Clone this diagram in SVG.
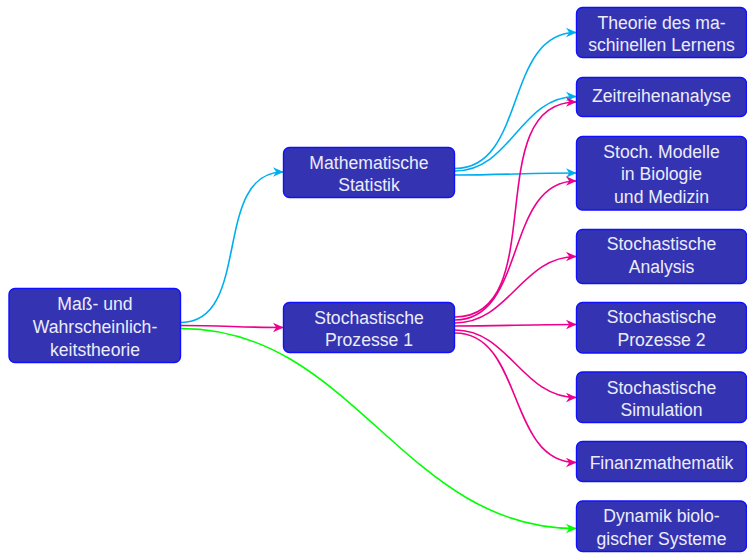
<svg xmlns="http://www.w3.org/2000/svg" width="747" height="553" viewBox="0 0 747 553">
<style>
.box{fill:#3434b2;stroke:#1010ff;stroke-width:1.4}
.t{font-family:"Liberation Sans",Arial,sans-serif;font-size:17.6px;fill:#ececf8;text-anchor:middle}
.e{fill:none;stroke-width:1.6}
.c{stroke:#00aeef}
.m{stroke:#ec008c}
.g{stroke:#00ff00}
</style>
<defs>
<marker id="ac" markerUnits="userSpaceOnUse" markerWidth="14" markerHeight="14" viewBox="-12 -7 14 14" refX="0" refY="0" orient="auto"><path d="M0.6,0 L-10,-4.8 L-6.8,0 L-10,4.8 Z" fill="#00aeef"/></marker>
<marker id="am" markerUnits="userSpaceOnUse" markerWidth="14" markerHeight="14" viewBox="-12 -7 14 14" refX="0" refY="0" orient="auto"><path d="M0.6,0 L-10,-4.8 L-6.8,0 L-10,4.8 Z" fill="#ec008c"/></marker>
<marker id="ag" markerUnits="userSpaceOnUse" markerWidth="14" markerHeight="14" viewBox="-12 -7 14 14" refX="0" refY="0" orient="auto"><path d="M0.6,0 L-10,-4.8 L-6.8,0 L-10,4.8 Z" fill="#00ff00"/></marker>
</defs>
<g id="connectors">
<path class="e c" marker-end="url(#ac)" d="M181,322.5 C252.7,322.5 211.3,172 283,172"/>
<path class="e c" marker-end="url(#ac)" d="M455,168.5 C527,168.5 504,32.5 576,32.5"/>
<path class="e c" marker-end="url(#ac)" d="M455,171 C511,171 520,96.5 576,96.5"/>
<path class="e c" marker-end="url(#ac)" d="M455,175 C503,175 528,173 576,173"/>
<path class="e m" marker-end="url(#am)" d="M181,325.5 C222,325.5 242,327.5 283,327.5"/>
<path class="e m" marker-end="url(#am)" d="M455,317 C552,317 479,102 576,102"/>
<path class="e m" marker-end="url(#am)" d="M455,320 C527,320 504,181 576,181"/>
<path class="e m" marker-end="url(#am)" d="M455,323 C509,323 522,256.5 576,256.5"/>
<path class="e m" marker-end="url(#am)" d="M455,326 C502,326 529,324.5 576,324.5"/>
<path class="e m" marker-end="url(#am)" d="M455,330 C509,330 522,397.5 576,397.5"/>
<path class="e m" marker-end="url(#am)" d="M455,333 C524,333 507,462.5 576,462.5"/>
<path class="e g" marker-end="url(#ag)" d="M181,328.5 C354,328.5 403,528.5 576,528.5"/>
</g>
<g id="n-root"><rect class="box" x="9" y="288.5" width="171.5" height="74" rx="6"/><text class="t" x="95" y="309.5">Maß- und</text><text class="t" x="95" y="333">Wahrscheinlich-</text><text class="t" x="95" y="355.5">keitstheorie</text></g>
<g id="n-ms"><rect class="box" x="283.5" y="147.5" width="171" height="50" rx="6"/><text class="t" x="369" y="168.5">Mathematische</text><text class="t" x="369" y="191">Statistik</text></g>
<g id="n-sp1"><rect class="box" x="283.5" y="302.5" width="171" height="50" rx="6"/><text class="t" x="369" y="323.5">Stochastische</text><text class="t" x="369" y="346">Prozesse 1</text></g>
<g id="n-theorie"><rect class="box" x="576.5" y="7.5" width="170" height="50" rx="6"/><text class="t" x="661.5" y="28.5">Theorie des ma-</text><text class="t" x="661.5" y="51">schinellen Lernens</text></g>
<g id="n-zeit"><rect class="box" x="576.5" y="77.5" width="170" height="39" rx="6"/><text class="t" x="661.5" y="102">Zeitreihenanalyse</text></g>
<g id="n-modelle"><rect class="box" x="576.5" y="136.5" width="170" height="73.5" rx="6"/><text class="t" x="661.5" y="157.5">Stoch. Modelle</text><text class="t" x="661.5" y="180">in Biologie</text><text class="t" x="661.5" y="202.5">und Medizin</text></g>
<g id="n-analysis"><rect class="box" x="576.5" y="229.5" width="170" height="54" rx="6"/><text class="t" x="661.5" y="250">Stochastische</text><text class="t" x="661.5" y="272.5">Analysis</text></g>
<g id="n-sp2"><rect class="box" x="576.5" y="302.5" width="170" height="50.5" rx="6"/><text class="t" x="661.5" y="323">Stochastische</text><text class="t" x="661.5" y="346">Prozesse 2</text></g>
<g id="n-sim"><rect class="box" x="576.5" y="372" width="170" height="50.5" rx="6"/><text class="t" x="661.5" y="393.5">Stochastische</text><text class="t" x="661.5" y="416">Simulation</text></g>
<g id="n-finanz"><rect class="box" x="576.5" y="441.5" width="170" height="40" rx="6"/><text class="t" x="661.5" y="469">Finanzmathematik</text></g>
<g id="n-dynamik"><rect class="box" x="576.5" y="501" width="170" height="50.5" rx="6"/><text class="t" x="661.5" y="522">Dynamik biolo-</text><text class="t" x="661.5" y="544.5">gischer Systeme</text></g>
</svg>
